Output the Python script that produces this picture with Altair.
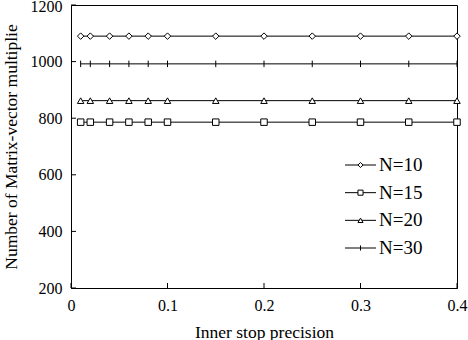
import altair as alt
import pandas as pd

x_vals = [0.01, 0.02, 0.04, 0.06, 0.08, 0.1, 0.15, 0.2, 0.25, 0.3, 0.35, 0.4]
n10 = [1090, 1090, 1090, 1090, 1090, 1090, 1090, 1090, 1090, 1090, 1090, 1090]
n15 = [786, 786, 786, 786, 786, 786, 786, 786, 786, 786, 786, 786]
n20 = [862, 862, 862, 862, 862, 862, 862, 862, 862, 862, 862, 862]
n30 = [992, 992, 992, 992, 992, 992, 992, 992, 992, 992, 992, 992]
series_names = ["N=10", "N=15", "N=20", "N=30"]
legend_rows = [0, 1, 2, 3]
x_ticks = [0, 0.1, 0.2, 0.3, 0.4]
y_ticks = [200, 400, 600, 800, 1000, 1200]

rows = []
for name, vals in zip(series_names, [n10, n15, n20, n30]):
    for xv, yv in zip(x_vals, vals):
        rows.append({"x": xv, "y": yv, "series": name})
df = pd.DataFrame(rows)
legend_df = pd.DataFrame({"series": series_names, "row": legend_rows})

FONT = "Liberation Serif"
W, H = 386, 283

xscale = alt.Scale(domain=[0, 0.4], nice=False, zero=False)
yscale = alt.Scale(domain=[200, 1200], nice=False, zero=False)
shape_scale = alt.Scale(domain=series_names,
                        range=["diamond", "square", "triangle-up", "M0,-1V1"])

xaxis = alt.Axis(values=x_ticks, format="~g", title="Inner stop precision",
                 tickSize=0, labelPadding=9, titlePadding=10, grid=False,
                 domainColor="black", labelFont=FONT, titleFont=FONT,
                 labelFontSize=16, titleFontSize=17.5, titleFontWeight="normal",
                 labelColor="black", titleColor="black", labelFlush=False)
yaxis = alt.Axis(values=y_ticks, format="d", title="Number of Matrix-vector multiplie",
                 tickSize=0, labelPadding=9, titlePadding=10, grid=False,
                 domainColor="black", labelFont=FONT, titleFont=FONT,
                 labelFontSize=16, titleFontSize=17.5, titleFontWeight="normal",
                 labelColor="black", titleColor="black",
                 labelOffset={"condition": {"test": "datum.value == 1200", "value": 1.5},
                              "value": 0})

base = alt.Chart(df)

lines = base.mark_line(color="black", strokeWidth=1).encode(
    x=alt.X("x:Q", scale=xscale, axis=xaxis),
    y=alt.Y("y:Q", scale=yscale, axis=yaxis),
    detail="series:N",
)

points = base.mark_point(filled=True, fill="white", stroke="black",
                         strokeWidth=1, size=42, opacity=1).encode(
    x=alt.X("x:Q", scale=xscale),
    y=alt.Y("y:Q", scale=yscale),
    shape=alt.Shape("series:N", legend=None, scale=shape_scale),
)

# inward tick marks
xt = pd.DataFrame({"t": x_ticks})
yt = pd.DataFrame({"t": y_ticks})
xtick_rules = alt.Chart(xt).mark_rule(color="black", strokeWidth=1).encode(
    x=alt.X("t:Q", scale=xscale), y=alt.value(H), y2=alt.value(H - 5))
ytick_rules = alt.Chart(yt).mark_rule(color="black", strokeWidth=1).encode(
    y=alt.Y("t:Q", scale=yscale), x=alt.value(0), x2=alt.value(5))

main = alt.layer(lines, points, xtick_rules, ytick_rules)

# legend drawn inside the plot area
leg_y = alt.Y("row:Q", axis=None,
              scale=alt.Scale(domain=[0, 3], range=[160, 243], nice=False, zero=False))
lg = alt.Chart(legend_df)
leg_lines = lg.mark_rule(color="black", strokeWidth=1).encode(
    y=leg_y, x=alt.value(274), x2=alt.value(305))
leg_points = lg.mark_point(filled=True, fill="white", stroke="black",
                           strokeWidth=1, size=26, opacity=1).encode(
    y=leg_y, x=alt.value(289.5),
    shape=alt.Shape("series:N", legend=None, scale=shape_scale))
leg_text = lg.mark_text(align="left", baseline="middle", font=FONT,
                        fontSize=19, color="black").encode(
    y=leg_y, x=alt.value(308), text="series:N")
legend = alt.layer(leg_lines, leg_points, leg_text)

chart = alt.layer(main, legend).resolve_scale(y="independent").properties(
    width=W, height=H,
    autosize=alt.AutoSizeParams(type="none"),
    padding={"left": 71, "top": 5, "right": 11, "bottom": 52},
    background="white",
).configure_view(stroke="black", strokeWidth=1)

chart.save("out.html", embed_options={"renderer": "svg", "actions": False})
